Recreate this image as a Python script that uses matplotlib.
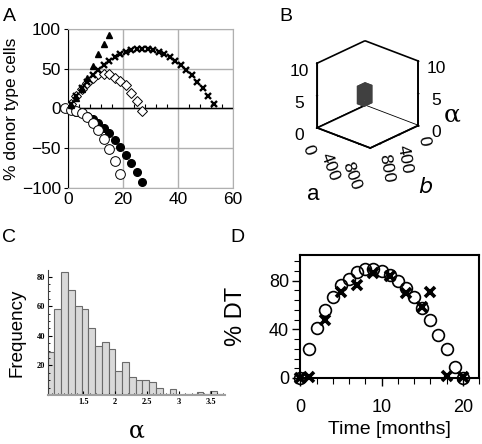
import matplotlib
matplotlib.use('Agg')
import matplotlib.pyplot as plt
from matplotlib.ticker import MultipleLocator, FixedLocator

plt.rcParams['font.family'] = ['Liberation Sans', 'DejaVu Sans']

# ---------------- data ----------------
# Panel A
tri_x = [1, 3, 5, 7, 9, 11, 13, 15]
tri_y = [4, 13, 24, 38, 54, 68, 81, 93]
cross_x = [1, 3, 5, 7, 9, 11, 13, 15, 17, 19, 21, 23, 25, 27, 29, 31, 33, 35, 37, 39,
           41, 43, 45, 47, 49, 51, 53]
cross_y = [5.5, 15.8, 25.2, 33.8, 41.7, 48.7, 54.8, 60.2, 64.7, 68.4, 71.3, 73.4, 74.6, 75,
           74.6, 73.4, 71.3, 68.4, 64.7, 60.2, 54.8, 48.7, 41.7, 33.8, 25.2, 15.8, 5.5]
dia_x = [1, 3, 5, 7, 9, 11, 13, 15, 17, 19, 21, 23, 25, 27]
dia_y = [6, 16, 24, 31.5, 38, 43, 44, 43, 38.7, 34.5, 29, 20, 10, -3]
ocirc_x = [-1, 1, 3, 5, 7, 9, 11, 13, 15, 17, 19]
ocirc_y = [0, -1.5, -3, -6, -11, -18, -27, -38, -51, -66.5, -83]
fcirc_x = [1, 3, 5, 7, 9, 11, 13, 15, 17, 19, 21, 23, 25, 27]
fcirc_y = [-2, -4, -6, -9, -13, -18, -24, -31, -39, -48, -58, -69, -80, -93]

# Panel B
b_ticks = [0, 400, 800]
a_ticks = [0, 400, 800]
alpha_ticks = [0, 5, 10]
cluster_a = (0, 140)
cluster_b = (0, 170)
cluster_alpha = (0.8, 3.6)

# Panel C
hist_start = 0.94
hist_width = 0.1063
hist_counts = [29, 58, 83, 71, 60, 58, 45, 33, 36, 31, 16, 22, 12, 10, 10, 9, 5, 1, 4, 0,
               1, 1, 2, 1, 3, 1]
c_xticks = [1.5, 2, 2.5, 3, 3.5]
c_xticklabels = ['1.5', '2', '2.5', '3', '3.5']
c_yticks = [20, 40, 60, 80]

# Panel D
d_circ_x = list(range(21))
d_circ_y = [0, 23.5, 41.4, 55.8, 66.5, 76, 81.5, 86.7, 89.5, 89.7, 87.5, 84.8, 79.5, 73.8,
            66.9, 57.3, 47.8, 35.4, 23.5, 9, 0]
d_cross_x = [0, 1, 3, 5, 7, 9, 11, 13, 15, 16, 18, 20]
d_cross_y = [0, 1, 47.5, 71, 76.5, 86, 84, 70, 58, 71, 1.5, 0.5]

# ---------------- figure ----------------
W, H = 482, 444
fig = plt.figure(figsize=(W / 100, H / 100), dpi=100)


def rect(x0, y0, x1, y1):
    return [x0 / W, 1 - y1 / H, (x1 - x0) / W, (y1 - y0) / H]


# ---------- Panel A ----------
axA = fig.add_axes(rect(68, 29, 233, 188))
axA.set_xlim(0, 60)
axA.set_ylim(-100, 100)
axA.set_xticks([0, 20, 40, 60])
axA.set_yticks([-100, -50, 0, 50, 100])
axA.grid(True, color='#b0b0b0', lw=1.0)
axA.set_axisbelow(True)
for s in ['top', 'right', 'bottom']:
    axA.spines[s].set_color('#b0b0b0')
axA.spines['left'].set_color('black')
axA.axhline(0, color='black', lw=1.0, zorder=1)
axA.tick_params(axis='x', length=0, labelsize=12.5, pad=3)
axA.tick_params(axis='y', length=3, labelsize=12.5, pad=2)
sec = axA.secondary_xaxis(0.5)
sec.set_xticks([4, 8, 12, 16, 24, 28, 32, 36, 44, 48, 52, 56])
sec.set_xticklabels([])
sec.tick_params(length=3, color='black')
sec.spines['bottom'].set_visible(False)
axA.set_ylabel('% donor type cells', fontsize=12.5, labelpad=2)

axA.plot(fcirc_x, fcirc_y, 'o', color='black', ms=5.5, clip_on=False, zorder=3)
axA.plot(ocirc_x, ocirc_y, 'o', mfc='white', mec='black', mew=0.7, ms=7, clip_on=False, zorder=4)
axA.plot(dia_x, dia_y, 'D', mfc='white', mec='black', mew=0.7, ms=5.5, zorder=4)
axA.plot(cross_x, cross_y, 'x', color='black', ms=4.5, mew=1.7, zorder=5)
axA.plot(tri_x, tri_y, '^', color='black', ms=4.5, zorder=5)

fig.text(3 / W, 1 - 8 / H, 'A', fontsize=14, va='top', ha='left')

# ---------- Panel B ----------
axB = fig.add_axes(rect(306, 36, 426, 156), projection='3d')
axB.set_proj_type('ortho')
axB.view_init(elev=25, azim=42)
axB.set_box_aspect((1, 1, 1))
axB.set_xlim(0, 1000)
axB.set_ylim(0, 1000)
axB.set_zlim(0, 10)
axB.grid(False)
for ax_ in (axB.xaxis, axB.yaxis, axB.zaxis):
    ax_.set_pane_color((1, 1, 1, 1))
    ax_.pane.set_edgecolor('black')
    ax_.pane.set_linewidth(1.2)
    ax_.line.set_color('black')
    ax_.line.set_linewidth(1.2)
axB.set_xticks(b_ticks)
axB.set_yticks(a_ticks)
axB.set_zticks(alpha_ticks)
axB.tick_params(labelsize=12.5, pad=0)
axB.tick_params(axis='x', labelrotation=-80, pad=-3)
axB.tick_params(axis='y', labelrotation=-70)
try:
    axB.zaxis.set_ticks_position('both')
except Exception:
    pass
axB.set_xlabel('$b$', fontsize=16, labelpad=6)
axB.set_ylabel('a', fontsize=16, labelpad=8)
axB.set_zlabel('')
axB.bar3d(cluster_b[0], cluster_a[0], cluster_alpha[0],
          cluster_b[1] - cluster_b[0], cluster_a[1] - cluster_a[0],
          cluster_alpha[1] - cluster_alpha[0], color='#404040', shade=False)
fig.text(452 / W, 1 - 115 / H, 'α', fontsize=18, family='DejaVu Serif', ha='center', va='center')
fig.text(279 / W, 1 - 8 / H, 'B', fontsize=14, va='top', ha='left')

# ---------- Panel C ----------
axC = fig.add_axes(rect(47.7, 270, 225, 395))
lefts = [hist_start + i * hist_width for i in range(len(hist_counts))]
axC.bar(lefts, hist_counts, width=hist_width, align='edge', color='#d9d9d9',
        edgecolor='#6a6a6a', lw=0.8)
axC.set_xlim(hist_start, hist_start + len(hist_counts) * hist_width + 0.02)
axC.set_ylim(0, 84.5)
for s in ['top', 'right']:
    axC.spines[s].set_visible(False)
axC.spines['left'].set_color('#404040')
axC.spines['bottom'].set_color('#a0a0a0')
axC.spines['bottom'].set_linewidth(1.5)
axC.set_xticks(c_xticks)
axC.set_xticklabels(c_xticklabels)
axC.set_yticks(c_yticks)
axC.xaxis.set_minor_locator(MultipleLocator(0.1))
axC.yaxis.set_minor_locator(MultipleLocator(5))
axC.tick_params(which='major', length=3, direction='in', labelsize=6, pad=2)
axC.tick_params(which='minor', length=1.5, direction='in')
for lab in axC.get_xticklabels() + axC.get_yticklabels():
    lab.set_family(['Liberation Serif', 'DejaVu Serif'])
    lab.set_fontweight('bold')
axC.set_ylabel('Frequency', fontsize=13.5, labelpad=8)
axC.set_xlabel('α', fontsize=17, family=['DejaVu Serif'], labelpad=10)
fig.text(2 / W, 1 - 229 / H, 'C', fontsize=14, va='top', ha='left')

# ---------- Panel D ----------
axD = fig.add_axes(rect(300, 255, 479, 378))
axD.set_xlim(-0.05, 22)
axD.set_ylim(0, 101)
for s in axD.spines.values():
    s.set_linewidth(1.5)
axD.set_xticks([0, 10, 20])
axD.set_yticks([0, 40, 80])
axD.xaxis.set_minor_locator(MultipleLocator(2))
axD.yaxis.set_minor_locator(MultipleLocator(8))
axD.tick_params(which='major', length=6, width=1.0, labelsize=13, pad=2)
axD.tick_params(axis='x', which='major', pad=9)
axD.tick_params(which='minor', length=4, width=0.8)
axD.plot(d_circ_x, d_circ_y, 'o', mfc='none', mec='black', mew=1.2, ms=8.5, clip_on=False, zorder=4)
axD.plot(d_cross_x, d_cross_y, 'x', color='black', ms=7, mew=2.6, clip_on=False, zorder=5)
axD.set_ylabel('% DT', fontsize=17, labelpad=16)
axD.set_xlabel('Time [months]', fontsize=14, labelpad=4)
fig.text(230 / W, 1 - 229 / H, 'D', fontsize=14, va='top', ha='left')

fig.savefig('out.png', dpi=100)
